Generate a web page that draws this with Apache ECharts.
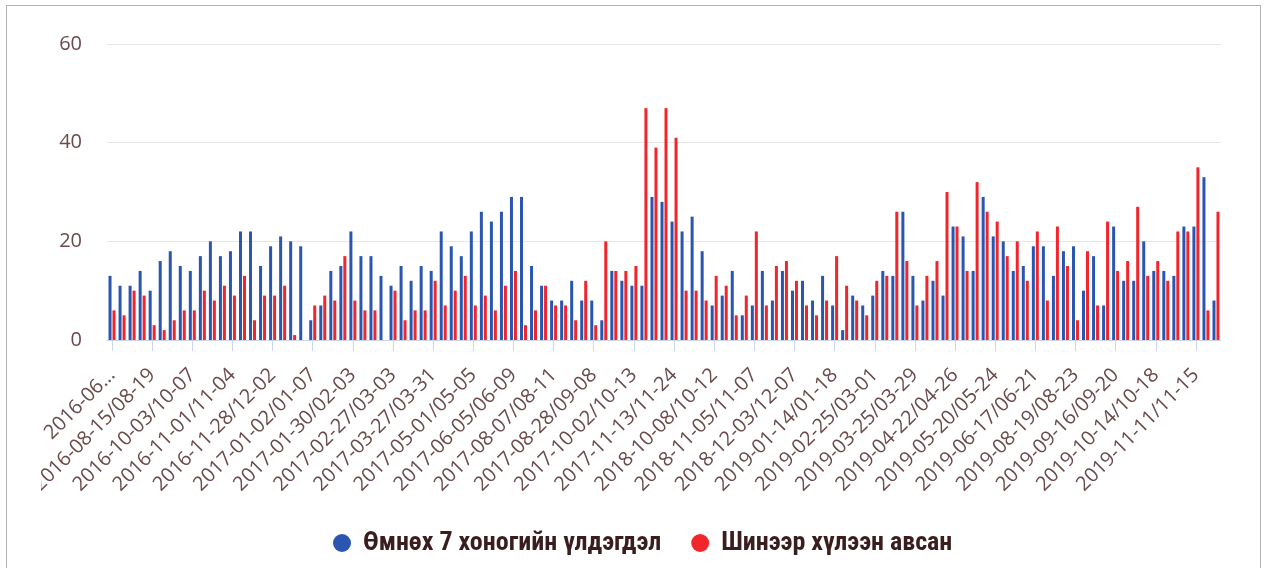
<!DOCTYPE html>
<html>
<head>
<meta charset="utf-8">
<script src="https://cdn.jsdelivr.net/npm/echarts@6/dist/echarts.min.js"></script>
<style>
  html, body { margin: 0; padding: 0; background: #ffffff; overflow: hidden; }
  #frame { position: absolute; left: 6px; top: 5px; width: 1255px; height: 620px; border: 1px solid #b4b4b4; box-sizing: border-box; }
  #chart { position: absolute; left: 41px; top: 0; width: 1224px; height: 568px; }
</style>
</head>
<body>
<div id="frame"></div>
<div id="chart"></div>
<script>
const categories = [
  "2016-06-20/06-24","2016-06-27/07-01","2016-07-04/07-08","2016-08-08/08-12",
  "2016-08-15/08-19","2016-08-22/08-26","2016-09-19/09-23","2016-09-26/09-30",
  "2016-10-03/10-07","2016-10-10/10-14","2016-10-17/10-21","2016-10-24/10-28",
  "2016-11-01/11-04","2016-11-07/11-11","2016-11-14/11-18","2016-11-21/11-25",
  "2016-11-28/12-02","2016-12-05/12-09","2016-12-12/12-16","2016-12-19/12-23",
  "2017-01-02/01-07","2017-01-09/01-13","2017-01-16/01-20","2017-01-23/01-27",
  "2017-01-30/02-03","2017-02-06/02-10","2017-02-13/02-17","2017-02-20/02-24",
  "2017-02-27/03-03","2017-03-06/03-10","2017-03-13/03-17","2017-03-20/03-24",
  "2017-03-27/03-31","2017-04-03/04-07","2017-04-10/04-14","2017-04-17/04-21",
  "2017-05-01/05-05","2017-05-08/05-12","2017-05-15/05-19","2017-05-22/05-26",
  "2017-06-05/06-09","2017-06-12/06-16","2017-06-19/06-23","2017-06-26/06-30",
  "2017-08-07/08-11","2017-08-14/08-18","2017-08-21/08-25","2017-08-24/08-27",
  "2017-08-28/09-08","2017-09-11/09-15","2017-09-18/09-22","2017-09-25/09-29",
  "2017-10-02/10-13","2017-10-16/10-20","2017-10-23/10-27","2017-10-30/11-10",
  "2017-11-13/11-24","2017-11-27/12-08","2017-12-11/12-22","2018-10-01/10-05",
  "2018-10-08/10-12","2018-10-15/10-19","2018-10-22/10-26","2018-10-29/11-02",
  "2018-11-05/11-07","2018-11-12/11-16","2018-11-19/11-23","2018-11-26/11-30",
  "2018-12-03/12-07","2018-12-10/12-14","2018-12-17/12-21","2019-01-07/01-11",
  "2019-01-14/01-18","2019-01-21/01-25","2019-01-28/02-01","2019-02-18/02-22",
  "2019-02-25/03-01","2019-03-04/03-08","2019-03-11/03-15","2019-03-18/03-22",
  "2019-03-25/03-29","2019-04-01/04-05","2019-04-08/04-12","2019-04-15/04-19",
  "2019-04-22/04-26","2019-04-29/05-03","2019-05-06/05-10","2019-05-13/05-17",
  "2019-05-20/05-24","2019-05-27/05-31","2019-06-03/06-07","2019-06-10/06-14",
  "2019-06-17/06-21","2019-06-24/06-28","2019-07-22/07-26","2019-08-12/08-16",
  "2019-08-19/08-23","2019-08-26/08-30","2019-09-02/09-06","2019-09-09/09-13",
  "2019-09-16/09-20","2019-09-23/09-27","2019-09-30/10-04","2019-10-07/10-11",
  "2019-10-14/10-18","2019-10-21/10-25","2019-10-28/11-01","2019-11-04/11-08",
  "2019-11-11/11-15","2019-11-18/11-22","2019-11-25/11-29"
];

const seriesNames = ["Өмнөх 7 хоногийн үлдэгдэл", "Шинээр хүлээн авсан"];

const remainingPrevWeek = [
  13,11,11,14,10,16,18,15,14,17,20,17,18,22,22,15,19,21,20,19,4,7,14,15,22,17,17,
  13,11,15,12,15,14,22,19,17,22,26,24,26,29,29,15,11,8,8,12,8,8,4,14,12,11,11,
  29,28,24,22,25,18,7,9,14,5,7,14,8,14,10,12,8,13,7,2,9,7,9,14,13,26,13,
  8,12,9,23,21,14,29,21,20,14,15,19,19,13,18,19,10,17,7,23,12,12,20,14,14,13,23,23,33,8
];

const newlyReceived = [
  6,5,10,9,3,2,4,6,6,10,8,11,9,13,4,9,9,11,1,0,7,9,8,17,8,6,6,
  0,10,4,6,6,12,7,10,13,7,9,6,11,14,3,6,11,7,7,4,12,3,20,14,14,15,47,
  39,47,41,10,10,8,13,11,5,9,22,7,15,16,12,7,5,8,17,11,8,5,12,13,26,16,7,
  13,16,30,23,14,32,26,24,17,20,12,22,8,23,15,4,18,7,24,14,16,27,13,16,12,22,22,35,6,26
];

const yTicks = { min: 0, max: 60, interval: 20 };

const labelColor = '#6b4a4a';
const chart = echarts.init(document.getElementById('chart'), null, { renderer: 'canvas' });
chart.setOption({
  backgroundColor: 'transparent',
  animation: false,
  grid: { left: 66, right: 44, top: 44, bottom: 228, containLabel: false, outerBoundsMode: 'none' },
  legend: {
    data: seriesNames,
    top: 525,
    left: 287,
    icon: 'circle',
    itemWidth: 32,
    itemHeight: 18,
    itemGap: 30,
    textStyle: {
      fontFamily: "'Liberation Sans Narrow', 'Roboto Condensed', Roboto, sans-serif",
      fontWeight: 'bold',
      fontSize: 26,
      color: '#3a1e1e'
    }
  },
  xAxis: {
    type: 'category',
    data: categories,
    boundaryGap: true,
    axisLine: { lineStyle: { color: '#ccd6eb', width: 1 } },
    axisTick: { show: true, alignWithLabel: true, interval: 3, length: 11, lineStyle: { color: '#ccd6eb' } },
    axisLabel: {
      interval: 3,
      rotate: 45,
      margin: 32,
      color: labelColor,
      fontFamily: "'Open Sans', sans-serif",
      fontSize: 20,
      formatter: function (v, i) { return i === 0 ? v.slice(0, 7) + '...' : v; }
    }
  },
  yAxis: {
    type: 'value',
    min: yTicks.min,
    max: yTicks.max,
    interval: yTicks.interval,
    axisLine: { show: false },
    axisTick: { show: false },
    splitLine: { lineStyle: { color: '#e6e6e6', width: 1 } },
    axisLabel: {
      margin: 25,
      color: labelColor,
      fontFamily: "'Open Sans', sans-serif",
      fontSize: 20
    }
  },
  series: [
    {
      name: seriesNames[0],
      type: 'bar',
      data: remainingPrevWeek,
      barWidth: 3,
      barGap: '33%',
      itemStyle: { color: '#2a55b1' }
    },
    {
      name: seriesNames[1],
      type: 'bar',
      data: newlyReceived,
      barWidth: 3,
      itemStyle: { color: '#f0262c' }
    }
  ]
});
</script>
</body>
</html>
